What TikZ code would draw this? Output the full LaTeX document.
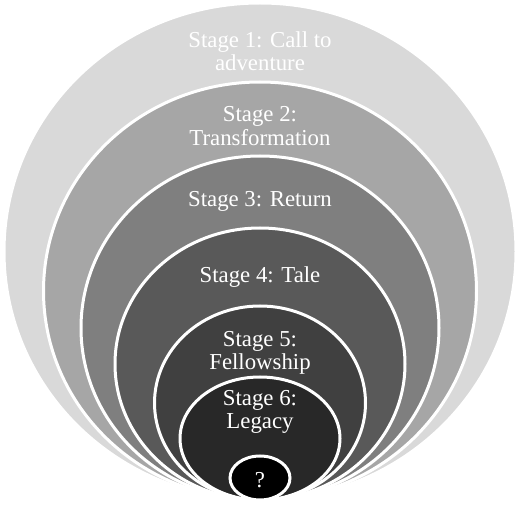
\documentclass[tikz,border=0pt]{standalone}
\usepackage{fontspec}
\setmainfont{Liberation Serif}
\usetikzlibrary{shapes.geometric}

\definecolor{band1}{HTML}{D9D9D9}
\definecolor{band2}{HTML}{A6A6A6}
\definecolor{band3}{HTML}{7F7F7F}
\definecolor{band4}{HTML}{595959}
\definecolor{band5}{HTML}{404040}
\definecolor{band6}{HTML}{282828}
\definecolor{band7}{HTML}{000000}

\begin{document}
\begin{tikzpicture}[x=1pt,y=-1pt,
    ring/.style={ellipse,draw=white,line width=3pt,inner sep=0pt,outer sep=0pt,anchor=south},
    tag/.style={text=white,align=center,inner sep=0pt,font=\fontsize{22.8}{23.5}\selectfont}]
    \useasboundingbox (0,0) rectangle (520,505);

    \node[ring, fill=band1, minimum width=512pt, minimum height=497pt] (s_1) at (260,500) {};
    \node[ring, fill=band2, minimum width=433pt, minimum height=418pt] (s_2) at (260,500) {};
    \node[ring, fill=band3, minimum width=358pt, minimum height=344pt] (s_3) at (260,500) {};
    \node[ring, fill=band4, minimum width=290pt, minimum height=272pt] (s_4) at (260,500) {};
    \node[ring, fill=band5, minimum width=211pt, minimum height=194pt] (s_5) at (260,500) {};
    \node[ring, fill=band6, minimum width=160pt, minimum height=123pt] (s_6) at (260,500) {};
    \node[ring, fill=band7, minimum width=60pt, minimum height=44pt] (s_7) at (260,500) {};

    \node[tag] (l_1) at (260,51) {Stage 1: Call to\\adventure};
    \node[tag] (l_2) at (260,126) {Stage 2:\\Transformation};
    \node[tag] (l_3) at (260,201) {Stage 3: Return};
    \node[tag] (l_4) at (260,277) {Stage 4: Tale};
    \node[tag] (l_5) at (260,353) {Stage 5:\\Fellowship};
    \node[tag] (l_6) at (260,412) {Stage 6:\\Legacy};
    \node[tag] (l_7) at (260,480) {?};
\end{tikzpicture}
\end{document}
